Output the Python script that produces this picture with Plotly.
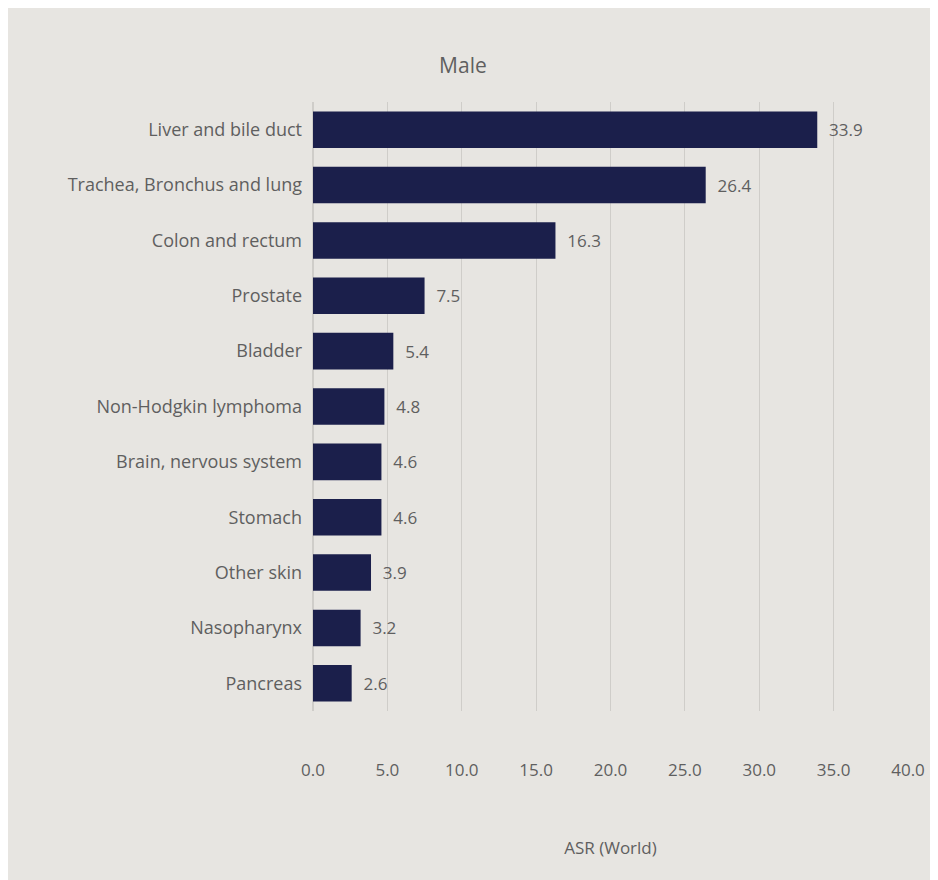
import plotly.graph_objects as go

sites = ["Liver and bile duct", "Trachea, Bronchus and lung", "Colon and rectum",
         "Prostate", "Bladder", "Non-Hodgkin lymphoma", "Brain, nervous system",
         "Stomach", "Other skin", "Nasopharynx", "Pancreas"]
asr = [33.9, 26.4, 16.3, 7.5, 5.4, 4.8, 4.6, 4.6, 3.9, 3.2, 2.6]
tick_vals = [0, 5, 10, 15, 20, 25, 30, 35, 40]

grey = "#5f5f5f"
bg = "#e7e5e1"

fig = go.Figure()
fig.add_trace(go.Bar(
    x=asr, y=sites, orientation="h",
    marker=dict(color="#1b1f4b", line=dict(width=0)),
    text=["  %.1f" % v for v in asr], textposition="outside",
    textfont=dict(color=grey, size=17), cliponaxis=False,
))

fig.update_layout(
    width=938, height=880,
    paper_bgcolor=bg, plot_bgcolor=bg,
    font=dict(family="Open Sans", color=grey, size=18),
    title=dict(text="Male", x=0.485, xanchor="center", y=0.935, yanchor="middle",
               font=dict(size=21, color=grey)),
    margin=dict(l=305, r=38, t=94, b=177),
    bargap=0.34,
    showlegend=False,
)
fig.update_xaxes(range=[0, 40], tickvals=tick_vals,
                 ticktext=["%.1f" % v for v in tick_vals],
                 tickfont=dict(size=17),
                 showgrid=True, gridcolor="#cfcdc9", gridwidth=1,
                 zeroline=True, zerolinecolor="#cfcdc9",
                 ticklabelstandoff=47,
                 title=dict(text="ASR (World)", standoff=62, font=dict(size=17)))
fig.update_yaxes(autorange="reversed", ticklabelstandoff=10, showgrid=False)

fig.write_html("out.html")
